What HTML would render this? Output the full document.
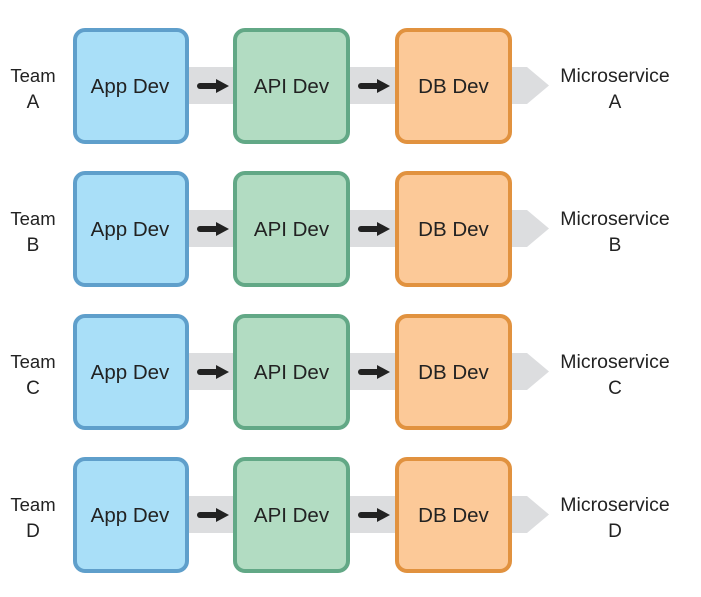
<!DOCTYPE html>
<html><head><meta charset="utf-8"><style>
html,body{margin:0;padding:0;background:#fff;}
svg{display:block;}
text{font-family:"Liberation Sans",sans-serif;fill:#222;}
</style></head><body>
<svg width="701" height="597" viewBox="0 0 701 597" xmlns="http://www.w3.org/2000/svg">
<defs>
<g id="row">
  <polygon points="185,39 527,39 549,57.5 527,76 185,76" fill="#dcdddf"/>
  <rect x="75" y="2" width="112" height="112" rx="10" fill="#a9dff8" stroke="#5f9fcb" stroke-width="4"/>
  <rect x="235" y="2" width="113" height="112" rx="10" fill="#b2dcc2" stroke="#62a886" stroke-width="4"/>
  <rect x="397" y="2" width="113" height="112" rx="10" fill="#fcc998" stroke="#e1923f" stroke-width="4"/>
  <line x1="200" y1="58" x2="218" y2="58" stroke="#222" stroke-width="6" stroke-linecap="round"/>
  <polygon points="216,51 229,58 216,65" fill="#222"/>
  <line x1="361" y1="58" x2="379" y2="58" stroke="#222" stroke-width="6" stroke-linecap="round"/>
  <polygon points="377,51 390,58 377,65" fill="#222"/>
  <text x="130" y="65" font-size="20.5" text-anchor="middle">App Dev</text>
  <text x="291.5" y="65" font-size="20.5" text-anchor="middle">API Dev</text>
  <text x="453.5" y="65" font-size="20.5" text-anchor="middle">DB Dev</text>
  <text x="33" y="54" font-size="18.5" text-anchor="middle">Team</text>
  <text x="615" y="54" font-size="19.5" text-anchor="middle">Microservice</text>
</g>
</defs>
<g transform="translate(0,28)"><use href="#row"/>
  <text x="33" y="80" font-size="19" text-anchor="middle">A</text>
  <text x="615" y="80" font-size="19" text-anchor="middle">A</text></g>
<g transform="translate(0,171)"><use href="#row"/>
  <text x="33" y="80" font-size="19" text-anchor="middle">B</text>
  <text x="615" y="80" font-size="19" text-anchor="middle">B</text></g>
<g transform="translate(0,314)"><use href="#row"/>
  <text x="33" y="80" font-size="19" text-anchor="middle">C</text>
  <text x="615" y="80" font-size="19" text-anchor="middle">C</text></g>
<g transform="translate(0,457)"><use href="#row"/>
  <text x="33" y="80" font-size="19" text-anchor="middle">D</text>
  <text x="615" y="80" font-size="19" text-anchor="middle">D</text></g>
</svg>
</body></html>
